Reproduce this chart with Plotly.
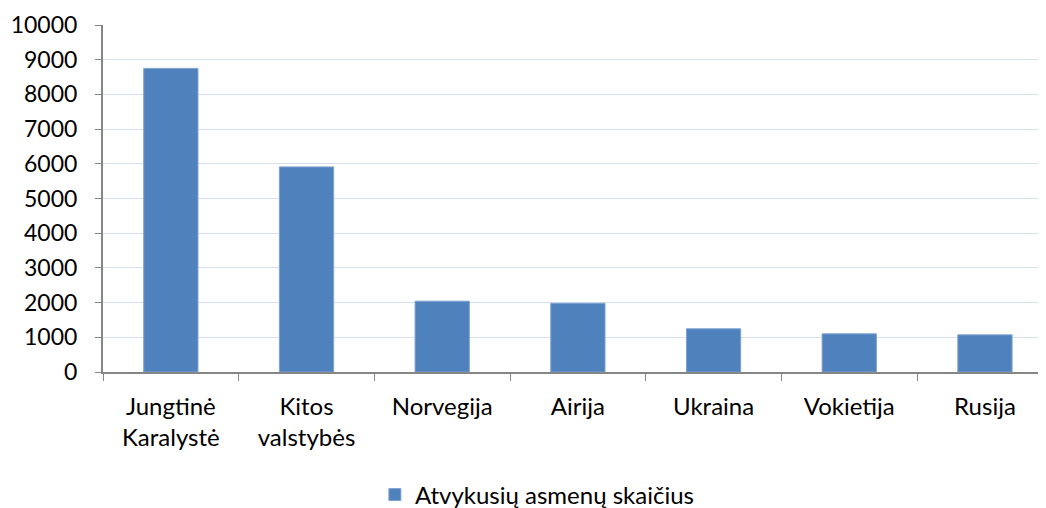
import plotly.graph_objects as go

categories = ["Jungtinė<br>Karalystė", "Kitos<br>valstybės", "Norvegija", "Airija", "Ukraina", "Vokietija", "Rusija"]
values = [8750, 5910, 2040, 1980, 1245, 1100, 1070]
series_name = "Atvykusių asmenų skaičius"
y_ticks = [0, 1000, 2000, 3000, 4000, 5000, 6000, 7000, 8000, 9000, 10000]

FONT = "Lato, 'Open Sans', sans-serif"

fig = go.Figure()
fig.add_trace(go.Bar(
    x=list(range(len(categories))),
    y=values,
    name=series_name,
    width=0.4,
    marker=dict(color="#4f81bd", line=dict(color="#7fa3d0", width=1)),
    showlegend=True,
))

# page body has an 8px default margin; compensate so the chart sits at the window origin
fig.update_layout(
    width=1038,
    height=500,
    margin=dict(l=95, r=0, t=17, b=136),
    paper_bgcolor="white",
    plot_bgcolor="white",
    font=dict(family=FONT, size=24, color="#000000"),
    xaxis=dict(
        range=[-0.5, 6.45],
        tickmode="array",
        tickvals=list(range(len(categories))),
        ticktext=categories,
        showgrid=False,
        showline=True,
        linecolor="#868686",
        linewidth=2,
        ticks="",
        ticklabelstandoff=12,
        tickfont=dict(family=FONT, size=24),
        zeroline=False,
        automargin=False,
        minor=dict(tickmode="array", tickvals=[i - 0.5 for i in range(len(categories) + 1)],
                   ticks="outside", ticklen=7, tickcolor="#868686", tickwidth=1),
        fixedrange=True,
    ),
    yaxis=dict(
        range=[0, 10000],
        tickmode="array",
        tickvals=y_ticks,
        ticktext=[str(v) for v in y_ticks],
        showgrid=True,
        gridcolor="#d6e0ef",
        gridwidth=1,
        showline=True,
        linecolor="#868686",
        linewidth=2,
        ticks="outside",
        ticklen=6,
        tickcolor="#868686",
        ticklabelstandoff=13,
        tickfont=dict(family=FONT, size=23),
        zeroline=False,
        automargin=False,
        fixedrange=True,
    ),
    legend=dict(
        orientation="h",
        xref="container",
        yref="container",
        x=0.51,
        xanchor="center",
        y=0.026,
        yanchor="middle",
        font=dict(family=FONT, size=24),
        itemwidth=30,
        bgcolor="rgba(0,0,0,0)",
    ),
)

fig.write_html("out.html")
